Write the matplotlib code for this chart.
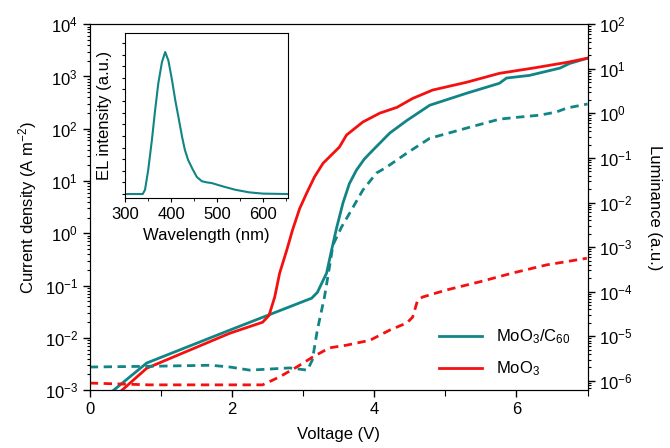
import numpy as np
import matplotlib
matplotlib.use("Agg")
import matplotlib.pyplot as plt
from matplotlib.ticker import LogLocator, MultipleLocator, NullFormatter

plt.rcParams['font.family'] = ['Liberation Sans', 'DejaVu Sans']
plt.rcParams['mathtext.fontset'] = 'custom'
plt.rcParams['mathtext.rm'] = 'Liberation Sans'
plt.rcParams['mathtext.it'] = 'Liberation Sans:italic'
plt.rcParams['mathtext.bf'] = 'Liberation Sans:bold'

# current density (log10 A m^-2) vs voltage
v_c60_j = [0.30, 0.80, 1.97, 3.12, 3.20, 3.33, 3.40, 3.47, 3.56, 3.65, 3.75, 3.86, 3.98, 4.22,
           4.46, 4.78, 5.30, 5.76, 5.86, 6.18, 6.61, 6.75, 7.0]
j_c60 = [-3.04, -2.48, -1.85, -1.24, -1.13, -0.76, -0.32, 0.10, 0.58, 0.95, 1.21, 1.42, 1.59, 1.92,
         2.16, 2.45, 2.68, 2.87, 2.97, 3.02, 3.16, 3.25, 3.35]

v_moo3_j = [0.42, 0.80, 1.97, 2.43, 2.52, 2.60, 2.67, 2.77, 2.85, 2.95, 3.05, 3.16, 3.28, 3.51,
            3.61, 3.84, 4.08, 4.32, 4.54, 4.82, 5.30, 5.76, 6.23, 6.71, 7.0]
j_moo3 = [-3.04, -2.58, -1.91, -1.70, -1.57, -1.22, -0.76, -0.32, 0.06, 0.47, 0.77, 1.08, 1.34, 1.65,
          1.88, 2.13, 2.30, 2.41, 2.58, 2.74, 2.89, 3.06, 3.16, 3.27, 3.35]

# luminance (log10 a.u.) vs voltage
v_c60_l = [0.0, 0.98, 1.70, 1.97, 2.25, 2.81, 3.06, 3.13, 3.20, 3.30, 3.37, 3.42, 3.54,
           3.65, 3.84, 4.03, 4.17, 4.46, 4.78, 5.30, 5.76, 6.00, 6.33, 6.56, 6.71, 7.0]
l_c60 = [-5.69, -5.67, -5.65, -5.69, -5.76, -5.71, -5.76, -5.53, -4.86, -4.12, -3.45, -2.95, -2.55,
         -2.25, -1.72, -1.34, -1.21, -0.89, -0.56, -0.33, -0.13, -0.09, -0.04, 0.03, 0.12, 0.21]

v_moo3_l = [0.0, 0.84, 1.97, 2.43, 2.67, 2.91, 3.13, 3.37, 3.61, 3.94, 4.22, 4.46, 4.54,
            4.61, 4.68, 5.02, 5.48, 5.95, 6.42, 6.99]
l_moo3 = [-6.05, -6.09, -6.09, -6.09, -5.91, -5.69, -5.47, -5.26, -5.20, -5.09, -4.86, -4.70, -4.57,
          -4.19, -4.12, -3.96, -3.78, -3.58, -3.40, -3.25]

# EL spectrum (inset)
wl = [300, 338, 343, 350, 358, 365, 372, 380, 387, 394, 402, 409, 416, 424, 430, 437, 446,
      456, 467, 478, 489, 500, 517, 540, 570, 600, 655]
el = [0.0, 0.0, 0.03, 0.17, 0.38, 0.59, 0.78, 0.93, 1.0, 0.94, 0.80, 0.66, 0.54, 0.40, 0.31, 0.24, 0.18,
      0.12, 0.09, 0.082, 0.077, 0.066, 0.05, 0.03, 0.012, 0.003, 0.0]

teal = '#118585'
red = '#f51010'

fig = plt.figure(figsize=(6.7, 4.48), dpi=100)
ax = fig.add_axes([0.134, 0.129, 0.743, 0.817])
ax2 = ax.twinx()

l1, = ax.plot(v_c60_j, 10 ** np.array(j_c60), color=teal, lw=2, label='MoO$_3$/C$_{60}$')
l2, = ax.plot(v_moo3_j, 10 ** np.array(j_moo3), color=red, lw=2, label='MoO$_3$')
ax2.plot(v_c60_l, 10 ** np.array(l_c60), color=teal, lw=2, ls=(0, (3, 2)))
ax2.plot(v_moo3_l, 10 ** np.array(l_moo3), color=red, lw=2, ls=(0, (3, 2)))

ax.set_yscale('log')
ax2.set_yscale('log')
ax.set_xlim(0, 7)
ax.set_ylim(1e-3, 1e4)
ax2.set_ylim(10 ** -6.21, 1e2)

ax.xaxis.set_major_locator(MultipleLocator(2))
ax.xaxis.set_minor_locator(MultipleLocator(1))
for a in (ax, ax2):
    a.yaxis.set_major_locator(LogLocator(base=10, numticks=20))
    a.yaxis.set_minor_locator(LogLocator(base=10, subs=np.arange(2, 10), numticks=20))
    a.yaxis.set_minor_formatter(NullFormatter())
    a.tick_params(which='major', length=5, width=1, labelsize=12)
    a.tick_params(which='minor', length=2.5, width=0.8)
ax.tick_params(axis='x', which='minor', length=4)

ax.set_xlabel('Voltage (V)', fontsize=12, labelpad=7)
ax.set_ylabel('Current density (A m$^{-2}$)', fontsize=12)
ax2.set_ylabel('Luminance (a.u.)', fontsize=12, rotation=270, labelpad=21)

ax.legend(handles=[l1, l2], loc='lower right', frameon=False, fontsize=12,
          bbox_to_anchor=(0.995, -0.008), handlelength=2.6, labelspacing=0.8)

ins = fig.add_axes([0.187, 0.558, 0.243, 0.368])
ins.plot(wl, el, color=teal, lw=1.5)
ins.set_xlim(300, 655)
ins.set_ylim(-0.028, 1.133)
ins.xaxis.set_major_locator(MultipleLocator(100))
ins.xaxis.set_minor_locator(MultipleLocator(50))
ins.yaxis.set_major_locator(MultipleLocator(0.0818))
ins.set_yticklabels([])
ins.tick_params(which='major', labelsize=12, length=3)
ins.tick_params(axis='y', length=2)
ins.set_xlabel('Wavelength (nm)', fontsize=12, labelpad=4)
ins.set_ylabel('EL intensity (a.u.)', fontsize=12, labelpad=4)

fig.savefig('out.png', dpi=100)
